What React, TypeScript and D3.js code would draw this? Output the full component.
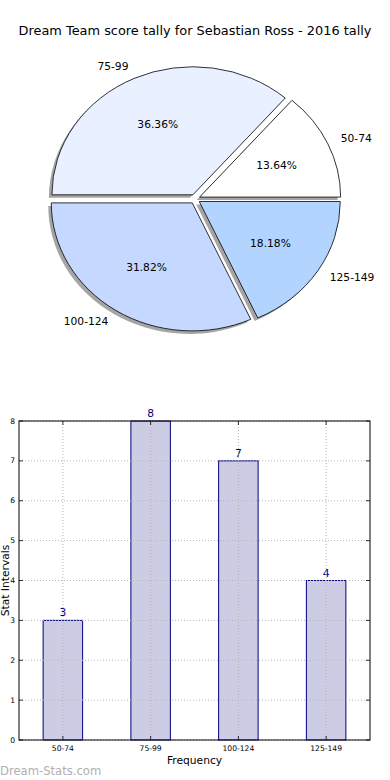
import React from "react";
import * as d3 from "d3";

const title = "Dream Team score tally for Sebastian Ross - 2016 tally";
const categories = ["50-74", "75-99", "100-124", "125-149"];
const counts = [3, 8, 7, 4];
const pieColors = ["#ffffff", "#e9f0ff", "#c5d8ff", "#b3d4ff"];
const yTicks = [0, 1, 2, 3, 4, 5, 6, 7, 8];

const font = "DejaVu Sans, sans-serif";

const PieChart = () => {
  const cx = 195;
  const cy = 199;
  const rx = 141;
  const ry = 128;
  const explode = 0.036;
  const total = d3.sum(counts);

  // matplotlib starts at 3 o'clock and goes counterclockwise
  const pie = d3
    .pie<number>()
    .sort(null)
    .startAngle(Math.PI / 2)
    .endAngle(Math.PI / 2 - 2 * Math.PI);
  const arcs = pie(counts);
  const arc = d3.arc<any>().innerRadius(0).outerRadius(1);

  return (
    <g>
      {arcs.map((a, i) => {
        const mid = (a.startAngle + a.endAngle) / 2;
        const ux = Math.sin(mid);
        const uy = -Math.cos(mid);
        const ox = cx + explode * ux * rx;
        const oy = cy + explode * uy * ry;
        return (
          <path
            key={"s" + i}
            d={arc(a) as string}
            transform={`translate(${ox - 3},${oy + 3}) scale(${rx},${ry})`}
            fill="#8f8f8f"
            opacity={0.8}
          />
        );
      })}
      {arcs.map((a, i) => {
        const mid = (a.startAngle + a.endAngle) / 2;
        const ux = Math.sin(mid);
        const uy = -Math.cos(mid);
        const ox = cx + explode * ux * rx;
        const oy = cy + explode * uy * ry;
        const lx = ox + 1.1 * ux * rx;
        const ly = oy + 1.1 * uy * ry;
        const px = ox + 0.6 * ux * rx;
        const py = oy + 0.6 * uy * ry;
        const pct = ((counts[i] / total) * 100).toFixed(2) + "%";
        return (
          <g key={"w" + i}>
            <path
              d={arc(a) as string}
              transform={`translate(${ox},${oy}) scale(${rx},${ry})`}
              fill={pieColors[i]}
              stroke="#000"
              strokeWidth={0.8}
              vectorEffect="non-scaling-stroke"
            />
            <text
              x={px}
              y={py}
              textAnchor="middle"
              dominantBaseline="central"
              fontSize={10.7}
              fontFamily={font}
            >
              {pct}
            </text>
            <text
              x={lx}
              y={ly}
              textAnchor={ux > 0 ? "start" : "end"}
              dominantBaseline="central"
              fontSize={10.7}
              fontFamily={font}
            >
              {categories[i]}
            </text>
          </g>
        );
      })}
    </g>
  );
};

const BarChart = () => {
  const left = 19;
  const right = 370;
  const top = 421;
  const bottom = 740;
  const x = d3.scaleLinear().domain([-0.5, 3.5]).range([left, right]);
  const y = d3.scaleLinear().domain([0, 8]).range([bottom, top]);
  const barW = 0.45;
  const grid = "#b5b5b5";

  return (
    <g>
      {counts.map((c, i) => (
        <g key={"b" + i}>
          <rect
            x={x(i - barW / 2)}
            y={y(c)}
            width={x(barW) - x(0)}
            height={y(0) - y(c)}
            fill="#ccccE4"
            stroke="#000080"
            strokeWidth={1}
          />
          <text
            x={x(i)}
            y={y(c) - 4}
            textAnchor="middle"
            fontSize={10.7}
            fill="#000080"
            fontFamily={font}
          >
            {c}
          </text>
        </g>
      ))}
      {yTicks.map((t) => (
        <g key={"y" + t}>
          <line x1={left} x2={right} y1={y(t)} y2={y(t)} stroke={grid} strokeWidth={1} strokeDasharray="1,2" />
          <line x1={left} x2={left + 4} y1={y(t)} y2={y(t)} stroke="#000" strokeWidth={0.8} />
          <line x1={right - 4} x2={right} y1={y(t)} y2={y(t)} stroke="#000" strokeWidth={0.8} />
          <text
            x={left - 4}
            y={y(t)}
            textAnchor="end"
            dominantBaseline="central"
            fontSize={7.6}
            fontFamily={font}
          >
            {t}
          </text>
        </g>
      ))}
      {categories.map((c, i) => (
        <g key={"x" + i}>
          <line x1={x(i)} x2={x(i)} y1={top} y2={bottom} stroke={grid} strokeWidth={1} strokeDasharray="1,2" />
          <line x1={x(i)} x2={x(i)} y1={bottom} y2={bottom - 4} stroke="#000" strokeWidth={0.8} />
          <line x1={x(i)} x2={x(i)} y1={top} y2={top + 4} stroke="#000" strokeWidth={0.8} />
          <text x={x(i)} y={bottom + 11} textAnchor="middle" fontSize={7.6} fontFamily={font}>
            {c}
          </text>
        </g>
      ))}
      <rect x={left} y={top} width={right - left} height={bottom - top} fill="none" stroke="#000" strokeWidth={1} />
      <text x={(left + right) / 2} y={764} textAnchor="middle" fontSize={10.7} fontFamily={font}>
        Frequency
      </text>
      <text
        transform={`translate(5.5,${(top + bottom) / 2}) rotate(-90)`}
        textAnchor="middle"
        dominantBaseline="central"
        fontSize={10.7}
        fontFamily={font}
      >
        Stat Intervals
      </text>
    </g>
  );
};

export default function App() {
  return (
    <svg
      width={390}
      height={780}
      style={{ position: "absolute", left: 0, top: 0, background: "#fff" }}
    >
      <text x={195} y={30} textAnchor="middle" dominantBaseline="central" fontSize={12.9} fontFamily={font}>
        {title}
      </text>
      <PieChart />
      <BarChart />
      <text x={0} y={775} fontSize={11.6} fill="#b0b0b0" fontFamily={font}>
        Dream-Stats.com
      </text>
    </svg>
  );
}
